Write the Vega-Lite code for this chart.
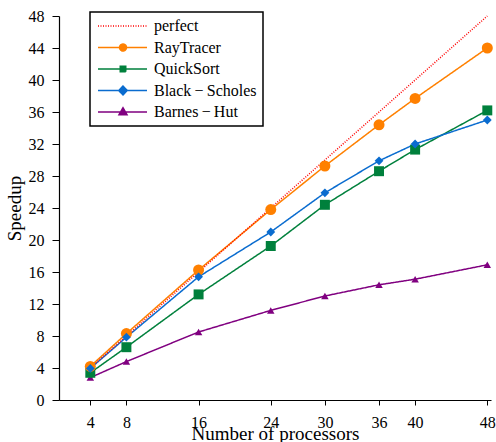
{
  "$schema": "https://vega.github.io/schema/vega-lite/v6.json",
  "width": 432,
  "height": 384,
  "autosize": {"type": "none"},
  "padding": {"left": 59, "top": 16, "right": 5, "bottom": 42},
  "config": {
    "view": {"stroke": null},
    "font": "Liberation Serif",
    "axis": {
      "labelFont": "Liberation Serif",
      "titleFont": "Liberation Serif",
      "labelFontSize": 16,
      "titleFontSize": 19,
      "titleFontWeight": "normal",
      "labelColor": "black",
      "titleColor": "black",
      "domainColor": "black",
      "tickColor": "black",
      "domainWidth": 1.2,
      "tickWidth": 1,
      "grid": false,
      "labelFlush": false,
      "labelOverlap": false
    }
  },
  "data": {
    "values": [
      {"processors": 4, "speedup": 2.8, "series": "Barnes\u2009−\u2009Hut"},
      {"processors": 8, "speedup": 4.8, "series": "Barnes\u2009−\u2009Hut"},
      {"processors": 16, "speedup": 8.5, "series": "Barnes\u2009−\u2009Hut"},
      {"processors": 24, "speedup": 11.2, "series": "Barnes\u2009−\u2009Hut"},
      {"processors": 30, "speedup": 13.0, "series": "Barnes\u2009−\u2009Hut"},
      {"processors": 36, "speedup": 14.4, "series": "Barnes\u2009−\u2009Hut"},
      {"processors": 40, "speedup": 15.1, "series": "Barnes\u2009−\u2009Hut"},
      {"processors": 48, "speedup": 16.9, "series": "Barnes\u2009−\u2009Hut"},
      {"processors": 4, "speedup": 3.4, "series": "QuickSort"},
      {"processors": 8, "speedup": 6.6, "series": "QuickSort"},
      {"processors": 16, "speedup": 13.2, "series": "QuickSort"},
      {"processors": 24, "speedup": 19.25, "series": "QuickSort"},
      {"processors": 30, "speedup": 24.4, "series": "QuickSort"},
      {"processors": 36, "speedup": 28.6, "series": "QuickSort"},
      {"processors": 40, "speedup": 31.3, "series": "QuickSort"},
      {"processors": 48, "speedup": 36.2, "series": "QuickSort"},
      {"processors": 4, "speedup": 4.2, "series": "RayTracer"},
      {"processors": 8, "speedup": 8.3, "series": "RayTracer"},
      {"processors": 16, "speedup": 16.25, "series": "RayTracer"},
      {"processors": 24, "speedup": 23.8, "series": "RayTracer"},
      {"processors": 30, "speedup": 29.25, "series": "RayTracer"},
      {"processors": 36, "speedup": 34.4, "series": "RayTracer"},
      {"processors": 40, "speedup": 37.7, "series": "RayTracer"},
      {"processors": 48, "speedup": 44.0, "series": "RayTracer"},
      {"processors": 4, "speedup": 3.95, "series": "Black\u2009−\u2009Scholes"},
      {"processors": 8, "speedup": 7.85, "series": "Black\u2009−\u2009Scholes"},
      {"processors": 16, "speedup": 15.4, "series": "Black\u2009−\u2009Scholes"},
      {"processors": 24, "speedup": 21.0, "series": "Black\u2009−\u2009Scholes"},
      {"processors": 30, "speedup": 25.9, "series": "Black\u2009−\u2009Scholes"},
      {"processors": 36, "speedup": 29.9, "series": "Black\u2009−\u2009Scholes"},
      {"processors": 40, "speedup": 32.0, "series": "Black\u2009−\u2009Scholes"},
      {"processors": 48, "speedup": 35.0, "series": "Black\u2009−\u2009Scholes"},
      {"processors": 4, "speedup": 4, "series": "perfect"},
      {"processors": 8, "speedup": 8, "series": "perfect"},
      {"processors": 16, "speedup": 16, "series": "perfect"},
      {"processors": 24, "speedup": 24, "series": "perfect"},
      {"processors": 30, "speedup": 30, "series": "perfect"},
      {"processors": 36, "speedup": 36, "series": "perfect"},
      {"processors": 40, "speedup": 40, "series": "perfect"},
      {"processors": 48, "speedup": 48, "series": "perfect"}
    ]
  },
  "encoding": {
    "x": {
      "field": "processors",
      "type": "quantitative",
      "scale": {"domain": [0.53, 48.41], "nice": false, "zero": false},
      "axis": {
        "values": [4, 8, 16, 24, 30, 36, 40, 48],
        "title": "Number of processors",
        "labelFont": "Liberation Serif",
        "titleFont": "Liberation Serif",
        "tickSize": 5,
        "labelPadding": 9,
        "titleX": 216,
        "titleY": 39,
        "titleBaseline": "alphabetic"
      }
    },
    "y": {
      "field": "speedup",
      "type": "quantitative",
      "scale": {"domain": [0, 48], "nice": false},
      "axis": {
        "values": [0, 4, 8, 12, 16, 20, 24, 28, 32, 36, 40, 44, 48],
        "title": "Speedup",
        "labelFont": "Liberation Serif",
        "titleFont": "Liberation Serif",
        "tickSize": 7,
        "labelPadding": 8,
        "titleX": -39,
        "titleY": 192,
        "titleAngle": -90,
        "titleBaseline": "alphabetic"
      }
    }
  },
  "layer": [
    {
      "mark": {"type": "line", "strokeWidth": 1.5},
      "encoding": {
        "color": {
          "field": "series",
          "type": "nominal",
          "scale": {
            "domain": ["perfect", "RayTracer", "QuickSort", "Black\u2009−\u2009Scholes", "Barnes\u2009−\u2009Hut"],
            "range": ["#ff0000", "#ff8000", "#00803c", "#0a6ccf", "#800080"]
          },
          "legend": {
            "title": null,
            "orient": "none",
            "legendX": 31,
            "legendY": -4,
            "padding": 6,
            "rowPadding": 5.5,
            "symbolSize": 100,
            "symbolStrokeWidth": 1.5,
            "labelOffset": 42,
            "labelFont": "Liberation Serif",
            "labelFontSize": 16,
            "labelColor": "black",
            "labelLimit": 300,
            "encode": {
              "legend": {
                "update": {
                  "stroke": {"value": "black"},
                  "strokeWidth": {"value": 1.5},
                  "fill": {"value": "white"}
                }
              },
              "labels": {
                "update": {
                  "font": {"value": "Liberation Serif"}
                }
              },
              "symbols": {
                "update": {
                  "shape": {"signal": "datum.value === 'perfect' ? 'M-1.2,0H8.6' : datum.value === 'RayTracer' ? 'M-1.2,0H8.6M3.1,0A0.7,0.7 0 1,0 4.5,0A0.7,0.7 0 1,0 3.1,0Z' : datum.value === 'QuickSort' ? 'M-1.2,0H8.6M3.25,-0.55H4.35V0.55H3.25Z' : substring(datum.value, 0, 3) === 'Bla' ? 'M-1.2,0H8.6M3.8,-0.9L4.65,0L3.8,0.9L2.95,0Z' : 'M-1.2,0H8.6M3.8,-0.85L4.6,0.55H3.0Z'"},
                  "fill": {"signal": "scale('color', datum.value)"},
                  "stroke": {"signal": "scale('color', datum.value)"},
                  "strokeWidth": {"value": 1.5},
                  "strokeDash": {"signal": "datum.value === 'perfect' ? [1, 1.5] : [1, 0]"},
                  "opacity": {"value": 1}
                }
              }
            }
          }
        },
        "strokeDash": {
          "field": "series",
          "type": "nominal",
          "scale": {
            "domain": ["perfect", "RayTracer", "QuickSort", "Black\u2009−\u2009Scholes", "Barnes\u2009−\u2009Hut"],
            "range": [[1, 1.5], [1, 0], [1, 0], [1, 0], [1, 0]]
          },
          "legend": null
        }
      }
    },
    {
      "transform": [{"filter": "datum.series !== 'perfect'"}],
      "mark": {"type": "point", "filled": true, "opacity": 1},
      "encoding": {
        "color": {"field": "series", "type": "nominal", "legend": null},
        "shape": {
          "field": "series",
          "type": "nominal",
          "scale": {
            "domain": ["RayTracer", "QuickSort", "Black\u2009−\u2009Scholes", "Barnes\u2009−\u2009Hut"],
            "range": ["circle", "square", "diamond", "triangle-up"]
          },
          "legend": null
        },
        "size": {
          "field": "series",
          "type": "nominal",
          "scale": {
            "domain": ["RayTracer", "QuickSort", "Black\u2009−\u2009Scholes", "Barnes\u2009−\u2009Hut"],
            "range": [121, 56, 100, 80]
          },
          "legend": null
        }
      }
    }
  ]
}
